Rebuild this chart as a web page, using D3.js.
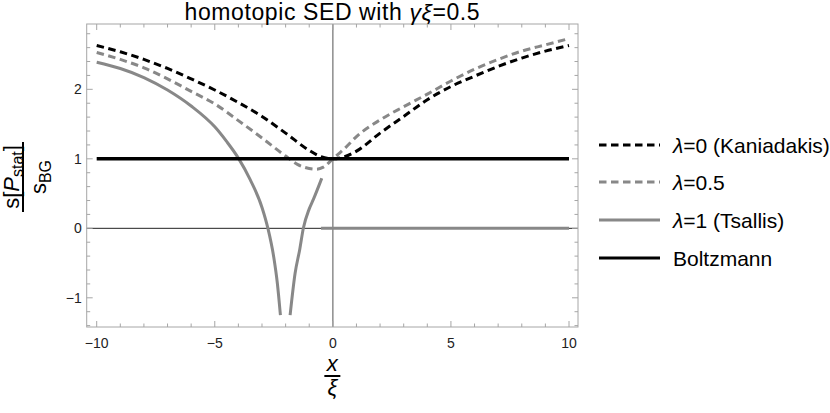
<!DOCTYPE html>
<html>
<head>
<meta charset="utf-8">
<script src="https://cdn.jsdelivr.net/npm/d3@7"></script>
<style>
body { margin: 0; background: #fff; }
svg { font-family: 'Liberation Sans', Arial, sans-serif; }
</style>
</head>
<body>
<div id="chart"></div>
<script>
// Curve values
const kaniX = [-10, -9, -8, -7, -6, -5, -4, -3, -2, -1, -0.5, 0, 0.5, 1, 2, 3, 4, 5, 6, 7, 8, 9, 10]
const kaniY = [2.63, 2.54, 2.43, 2.30, 2.15, 1.99, 1.81, 1.61, 1.37, 1.12, 1.03, 1.0, 1.03, 1.11, 1.37, 1.61, 1.85, 2.04, 2.19, 2.33, 2.45, 2.55, 2.63]

const halfX = [-10, -9, -8, -7, -6, -5, -4, -3, -2, -1.5, -1, -0.7, -0.4, 0, 0.5, 1, 2, 3, 4, 5, 6, 7, 8, 9, 10]
const halfY = [2.53, 2.43, 2.31, 2.15, 1.97, 1.79, 1.55, 1.30, 1.04, 0.92, 0.86, 0.85, 0.88, 1.0, 1.15, 1.32, 1.56, 1.75, 1.93, 2.12, 2.29, 2.43, 2.55, 2.64, 2.73]

const tsLeftX = [-10, -9, -8, -7, -6, -5, -4.5, -4, -3.5, -3, -2.75, -2.5, -2.35, -2.22]
const tsLeftY = [2.39, 2.30, 2.17, 1.99, 1.76, 1.46, 1.25, 1.01, 0.70, 0.30, 0.0, -0.42, -0.79, -1.25]
const tsRightX = [-1.81, -1.6, -1.4, -1.25, -1.0, -0.82, -0.47]
const tsRightY = [-1.25, -0.65, -0.30, 0.0, 0.28, 0.42, 0.72]
const tsZeroX = [-0.5, 10]
const tsZeroY = [0, 0]

const bgX = [-10, 10]
const bgY = [1, 1]

const xTicks = [-10, -5, 0, 5, 10]
const yTicks = [-1, 0, 1, 2]
const legendLabels = ['0 (Kaniadakis)', '0.5', '1 (Tsallis)', 'Boltzmann']

// Chart dimensions
const width = 830
const height = 413
const frame = {left: 86.7, right: 578, top: 24, bottom: 327}

const scaleX = d3.scaleLinear().domain([-10.423, 10.381]).range([frame.left, frame.right])
const scaleY = d3.scaleLinear().domain([-1.42, 2.94]).range([frame.bottom, frame.top])

const black = '#000000'
const gray = '#888888'
const frameColor = '#a6a6a6'

const svg = d3.select('#chart').append('svg')
	.attr('width', width)
	.attr('height', height)

// Zero axes
svg.append('line')
	.attr('x1', frame.left).attr('x2', frame.right)
	.attr('y1', scaleY(0)).attr('y2', scaleY(0))
	.style('stroke', '#222').style('stroke-width', 1)
svg.append('line')
	.attr('x1', scaleX(0)).attr('x2', scaleX(0))
	.attr('y1', frame.top).attr('y2', frame.bottom)
	.style('stroke', '#8c8c8c').style('stroke-width', 1.5)

// Curves
const line = d3.line()
	.x((d) => scaleX(d[0]))
	.y((d) => scaleY(d[1]))
	.curve(d3.curveMonotoneX)

function zip(xs, ys) {
	return xs.map((x, i) => [x, ys[i]])
}

const series = [
	{pts: zip(kaniX, kaniY), color: black, width: 3, dash: '7.5,4.5'},
	{pts: zip(halfX, halfY), color: gray, width: 3, dash: '7.5,4.5'},
	{pts: zip(tsLeftX, tsLeftY), color: gray, width: 3, dash: null},
	{pts: zip(tsRightX, tsRightY), color: gray, width: 3, dash: null},
	{pts: zip(tsZeroX, tsZeroY), color: gray, width: 3, dash: null},
	{pts: zip(bgX, bgY), color: black, width: 3.5, dash: null}
]

series.forEach((s) => {
	svg.append('path')
		.attr('d', line(s.pts))
		.style('fill', 'none')
		.style('stroke', s.color)
		.style('stroke-width', s.width)
		.style('stroke-dasharray', s.dash)
})

// Frame
svg.append('rect')
	.attr('x', frame.left).attr('y', frame.top)
	.attr('width', frame.right - frame.left)
	.attr('height', frame.bottom - frame.top)
	.style('fill', 'none')
	.style('stroke', frameColor)
	.style('stroke-width', 1)

// Ticks (inward, on all four sides)
const ticks = svg.append('g').style('stroke', frameColor).style('stroke-width', 1)
d3.range(-10, 11, 1).forEach((v) => {
	let len = (v % 5 == 0) ? 6 : 3.5
	let x = scaleX(v)
	ticks.append('line').attr('x1', x).attr('x2', x).attr('y1', frame.bottom).attr('y2', frame.bottom - len)
	ticks.append('line').attr('x1', x).attr('x2', x).attr('y1', frame.top).attr('y2', frame.top + len)
})
d3.range(-1.4, 2.95, 0.2).forEach((v) => {
	let r = Math.round(v * 10) / 10
	let len = (Math.abs(r - Math.round(r)) < 1e-6) ? 6 : 3.5
	let y = scaleY(r)
	ticks.append('line').attr('x1', frame.left).attr('x2', frame.left + len).attr('y1', y).attr('y2', y)
	ticks.append('line').attr('x1', frame.right).attr('x2', frame.right - len).attr('y1', y).attr('y2', y)
})

const fmt = (v) => (v < 0 ? '\u2212' + Math.abs(v) : '' + v)

svg.selectAll('.xtick')
	.data(xTicks)
	.enter()
	.append('text')
	.attr('x', (d) => scaleX(d))
	.attr('y', frame.bottom + 21)
	.attr('text-anchor', 'middle')
	.style('font-size', '14px')
	.style('fill', '#222')
	.text(fmt)

svg.selectAll('.ytick')
	.data(yTicks)
	.enter()
	.append('text')
	.attr('x', frame.left - 5)
	.attr('y', (d) => scaleY(d) + 5)
	.attr('text-anchor', 'end')
	.style('font-size', '14px')
	.style('fill', '#222')
	.text(fmt)

// Title
const title = svg.append('text')
	.attr('x', (frame.left + frame.right) / 2)
	.attr('y', 20)
	.attr('text-anchor', 'middle')
	.style('font-size', '23px')
	.style('letter-spacing', '0.6px')
title.append('tspan').text('homotopic SED with ')
title.append('tspan').style('font-style', 'italic').text('\u03b3\u03be')
title.append('tspan').text('=0.5')

// x label: x / xi
const xc = (frame.left + frame.right) / 2
svg.append('text')
	.attr('x', xc).attr('y', 371)
	.attr('text-anchor', 'middle')
	.style('font-size', '22px').style('font-style', 'italic')
	.text('x')
svg.append('line')
	.attr('x1', xc - 8).attr('x2', xc + 8)
	.attr('y1', 376).attr('y2', 376)
	.style('stroke', black).style('stroke-width', 2)
svg.append('text')
	.attr('x', xc).attr('y', 395)
	.attr('text-anchor', 'middle')
	.style('font-size', '22px').style('font-style', 'italic')
	.text('\u03be')

// y label: s[P_stat] / s_BG, rotated
const yl = svg.append('g').attr('transform', 'translate(23,177) rotate(-90)')
const num = yl.append('text')
	.attr('x', 0).attr('y', -4)
	.attr('text-anchor', 'middle')
	.style('font-size', '22px')
num.append('tspan').text('s[')
num.append('tspan').style('font-style', 'italic').text('P')
num.append('tspan').attr('dy', 4).style('font-size', '16px').text('stat')
num.append('tspan').attr('dy', -4).text(']')
yl.append('line')
	.attr('x1', -35).attr('x2', 35)
	.attr('y1', 0).attr('y2', 0)
	.style('stroke', black).style('stroke-width', 2)
const den = yl.append('text')
	.attr('x', 0).attr('y', 23)
	.attr('text-anchor', 'middle')
	.style('font-size', '22px')
den.append('tspan').text('s')
den.append('tspan').attr('dy', 5).style('font-size', '16px').text('BG')

// Legend
const legendY = [145, 182, 220, 258]
const legendStyle = [
	{color: black, width: 3, dash: '7.5,4.5'},
	{color: gray, width: 3, dash: '7.5,4.5'},
	{color: gray, width: 3, dash: null},
	{color: black, width: 3, dash: null}
]
legendLabels.forEach((label, i) => {
	svg.append('line')
		.attr('x1', 599).attr('x2', 660)
		.attr('y1', legendY[i]).attr('y2', legendY[i])
		.style('stroke', legendStyle[i].color)
		.style('stroke-width', legendStyle[i].width)
		.style('stroke-dasharray', legendStyle[i].dash)
	let t = svg.append('text')
		.attr('x', 673).attr('y', legendY[i] + 7.5)
		.style('font-size', '21px')
	if (i < 3) {
		t.append('tspan').style('font-style', 'italic').text('\u03bb')
		t.append('tspan').text('=' + label)
	} else {
		t.text(label)
	}
})
</script>
</body>
</html>
